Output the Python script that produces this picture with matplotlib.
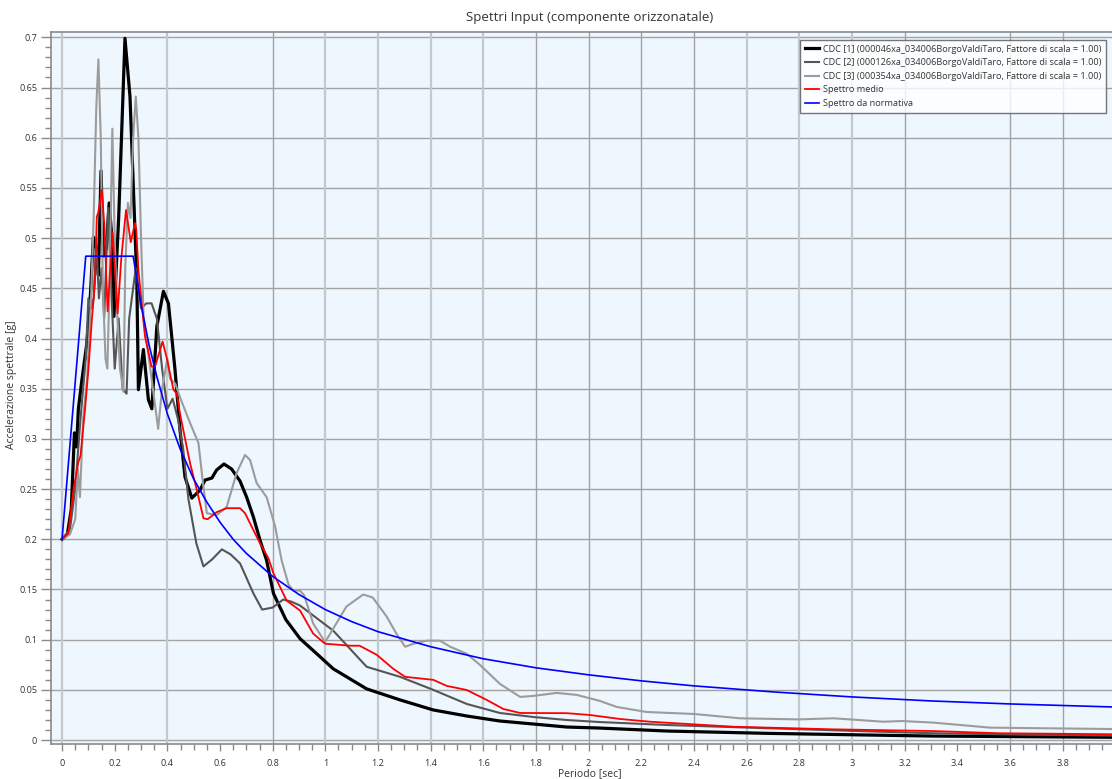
import matplotlib
matplotlib.use("Agg")
import matplotlib.pyplot as plt
from matplotlib.ticker import MultipleLocator, FuncFormatter

plt.rcParams['font.family'] = ['Open Sans', 'DejaVu Sans']

# ---------------- data ----------------
labels = [
    "CDC [1] (000046xa_034006BorgoValdiTaro, Fattore di scala = 1.00)",
    "CDC [2] (000126xa_034006BorgoValdiTaro, Fattore di scala = 1.00)",
    "CDC [3] (000354xa_034006BorgoValdiTaro, Fattore di scala = 1.00)",
    "Spettro medio",
    "Spettro da normativa",
]

cdc1_T = [0, 0.02, 0.035, 0.047, 0.055, 0.062, 0.075, 0.094, 0.106, 0.119, 0.13, 0.138,
          0.148, 0.157, 0.168, 0.179, 0.189, 0.197, 0.215, 0.239, 0.258, 0.284, 0.29,
          0.309, 0.328, 0.341, 0.36, 0.385, 0.404, 0.429, 0.448, 0.467, 0.493, 0.524,
          0.543, 0.569, 0.587, 0.615, 0.644, 0.676, 0.701, 0.727, 0.752, 0.777, 0.803,
          0.85, 0.904, 0.98, 1.03, 1.157, 1.284, 1.41, 1.537, 1.663, 1.79, 1.917, 2.04,
          2.3, 2.68, 3.0, 3.31, 3.65, 3.99]
cdc1_Y = [0.2, 0.205, 0.23, 0.306, 0.292, 0.33, 0.358, 0.395, 0.435, 0.501, 0.49, 0.463,
          0.567, 0.482, 0.49, 0.535, 0.501, 0.422, 0.52, 0.699, 0.641, 0.458, 0.349,
          0.389, 0.339, 0.330, 0.412, 0.447, 0.435, 0.369, 0.309, 0.262, 0.241, 0.249,
          0.259, 0.261, 0.269, 0.275, 0.270, 0.258, 0.242, 0.222, 0.199, 0.179, 0.146,
          0.12, 0.101, 0.083, 0.071, 0.051, 0.040, 0.030, 0.024, 0.019, 0.016, 0.013, 0.012,
          0.009, 0.0067, 0.0053, 0.004, 0.0034, 0.0028]

cdc2_T = [0, 0.03, 0.05, 0.07, 0.09, 0.1, 0.11, 0.12, 0.13, 0.14, 0.15, 0.16, 0.175,
          0.185, 0.2, 0.215, 0.23, 0.245, 0.255, 0.27, 0.28, 0.3, 0.32, 0.34, 0.36, 0.38,
          0.4, 0.42, 0.44, 0.46, 0.48, 0.51, 0.537, 0.57, 0.607, 0.64, 0.676, 0.727, 0.76,
          0.8, 0.84, 0.87, 0.904, 1.03, 1.157, 1.284, 1.41, 1.537, 1.663, 1.79, 1.917,
          2.04, 2.3, 2.68, 3.0, 3.31, 3.65, 3.99]
cdc2_Y = [0.2, 0.21, 0.25, 0.32, 0.38, 0.44, 0.43, 0.44, 0.5, 0.44, 0.47, 0.42, 0.53,
          0.46, 0.37, 0.42, 0.35, 0.345, 0.42, 0.45, 0.47, 0.43, 0.435, 0.435, 0.42, 0.37,
          0.33, 0.34, 0.32, 0.29, 0.24, 0.196, 0.173, 0.18, 0.19, 0.185, 0.176, 0.146, 0.13,
          0.132, 0.14, 0.138, 0.134, 0.109, 0.073, 0.063, 0.050, 0.036, 0.027, 0.023, 0.020,
          0.018, 0.015, 0.0118, 0.0092, 0.0068, 0.0055, 0.0045]

cdc3_T = [0, 0.03, 0.05, 0.06, 0.068, 0.08, 0.095, 0.11, 0.12, 0.13, 0.138, 0.147, 0.155,
          0.165, 0.172, 0.18, 0.191, 0.2, 0.21, 0.22, 0.233, 0.24, 0.25, 0.26, 0.27, 0.28,
          0.29, 0.3, 0.31, 0.33, 0.35, 0.365, 0.38, 0.4, 0.41, 0.43, 0.45, 0.486, 0.518,
          0.537, 0.55, 0.587, 0.625, 0.663, 0.695, 0.714, 0.739, 0.777, 0.809, 0.834, 0.86,
          0.878, 0.904, 0.92, 0.954, 0.999, 1.03, 1.08, 1.144, 1.18, 1.233, 1.27, 1.303,
          1.335, 1.385, 1.436, 1.474, 1.537, 1.587, 1.663, 1.74, 1.79, 1.879, 1.955, 2.043,
          2.107, 2.22, 2.4, 2.575, 2.8, 2.93, 3.12, 3.19, 3.31, 3.525, 3.99]
cdc3_Y = [0.2, 0.205, 0.22, 0.27, 0.242, 0.32, 0.36, 0.44, 0.52, 0.63, 0.678, 0.6, 0.45,
          0.38, 0.37, 0.45, 0.609, 0.5, 0.42, 0.37, 0.347, 0.47, 0.535, 0.52, 0.6, 0.641,
          0.6, 0.5, 0.42, 0.38, 0.34, 0.31, 0.35, 0.38, 0.36, 0.355, 0.34, 0.316, 0.296,
          0.252, 0.226, 0.224, 0.232, 0.266, 0.284, 0.279, 0.256, 0.242, 0.213, 0.179, 0.155,
          0.149, 0.149, 0.144, 0.116, 0.0976, 0.111, 0.133, 0.145, 0.142, 0.123, 0.106, 0.093,
          0.096, 0.099, 0.099, 0.093, 0.086, 0.075, 0.056, 0.043, 0.044, 0.047, 0.045, 0.039,
          0.033, 0.028, 0.026, 0.0217, 0.0206, 0.0217, 0.0183, 0.019, 0.0174, 0.0124, 0.011]

mean_T = [0, 0.024, 0.043, 0.062, 0.07, 0.087, 0.1, 0.113, 0.125, 0.132, 0.138, 0.151,
          0.161, 0.173, 0.192, 0.211, 0.225, 0.243, 0.261, 0.277, 0.282, 0.29, 0.315,
          0.34, 0.353, 0.382, 0.398, 0.423, 0.436, 0.448, 0.486, 0.512, 0.537, 0.553,
          0.587, 0.625, 0.676, 0.695, 0.727, 0.752, 0.784, 0.803, 0.853, 0.904, 0.954,
          0.999, 1.094, 1.13, 1.195, 1.258, 1.303, 1.41, 1.461, 1.537, 1.613, 1.676, 1.74,
          1.917, 2.005, 2.12, 2.233, 2.55, 2.93, 3.31, 3.56, 3.99]
mean_Y = [0.2, 0.206, 0.249, 0.277, 0.283, 0.329, 0.369, 0.418, 0.455, 0.521, 0.526, 0.548,
          0.511, 0.427, 0.506, 0.425, 0.48, 0.528, 0.496, 0.515, 0.508, 0.468, 0.402,
          0.372, 0.372, 0.397, 0.38, 0.349, 0.345, 0.325, 0.276, 0.249, 0.221, 0.22,
          0.227, 0.231, 0.231, 0.226, 0.209, 0.196, 0.181, 0.166, 0.139, 0.129, 0.106,
          0.096, 0.094, 0.094, 0.085, 0.071, 0.063, 0.060, 0.054, 0.0499, 0.040, 0.031, 0.027,
          0.0268, 0.025, 0.021, 0.0183, 0.0133, 0.0107, 0.009, 0.0068, 0.0058]

norm_T = [0, 0.09, 0.27, 0.3, 0.33, 0.36, 0.4, 0.45, 0.5, 0.55, 0.6, 0.65, 0.7, 0.8, 0.9,
          1.0, 1.1, 1.2, 1.4, 1.6, 1.8, 2.0, 2.2, 2.4, 2.7, 3.0, 3.3, 3.6, 3.99]
norm_Y = [0.2, 0.482, 0.482, 0.434, 0.394, 0.362, 0.325, 0.289, 0.260, 0.237, 0.217,
          0.200, 0.186, 0.163, 0.145, 0.130, 0.118, 0.108, 0.093, 0.081, 0.072, 0.065,
          0.059, 0.054, 0.048, 0.043, 0.039, 0.036, 0.033]

# ---------------- figure ----------------
fig = plt.figure(figsize=(11.12, 7.79), dpi=100)
ax = fig.add_axes([51 / 1112, 1 - 744 / 779, 1 - 51 / 1112, (744 - 32) / 779])
ax.set_facecolor('#eef6fe')

ax.set_xlim(-0.042, 3.988)
ax.set_ylim(-0.0039, 0.7053)

# grid
for v in [0.05 * k for k in range(0, 15)]:
    ax.axhline(v, color='#a3a3a3', lw=1.0, zorder=1)
light_v = [0, 0.4, 1.0, 1.2, 1.4, 1.6, 2.6, 2.8, 3.0]
dark_v = [0.8, 1.8, 2.0, 2.2, 2.4, 3.2, 3.6, 3.8]
for v in light_v:
    ax.axvline(v, color='#c5c9cd', lw=1.6, zorder=1)
for v in dark_v:
    ax.axvline(v, color='#a3a3a3', lw=1.0, zorder=1)

l1, = ax.plot(cdc1_T, cdc1_Y, color='black', lw=2.3, zorder=3)
l2, = ax.plot(cdc2_T, cdc2_Y, color='#555555', lw=1.5, zorder=3)
l3, = ax.plot(cdc3_T, cdc3_Y, color='#9c9c9c', lw=1.5, zorder=3)
l4, = ax.plot(mean_T, mean_Y, color='#ff0000', lw=1.3, zorder=4)
l5, = ax.plot(norm_T, norm_Y, color='#0000ff', lw=1.2, zorder=5)

# ticks
ax.yaxis.set_major_locator(MultipleLocator(0.05))
ax.yaxis.set_minor_locator(MultipleLocator(0.01))
ax.xaxis.set_major_locator(MultipleLocator(0.2))
ax.xaxis.set_minor_locator(MultipleLocator(0.05))
fmt = FuncFormatter(lambda v, p: ('%g' % round(v, 2)))
ax.xaxis.set_major_formatter(fmt)
ax.yaxis.set_major_formatter(fmt)
ax.tick_params(axis='y', which='major', length=7, width=1, color='#8a8a8a',
               labelsize=6.6, labelcolor='#333333', pad=3)
ax.tick_params(axis='y', which='minor', length=4, width=1, color='#8a8a8a')
ax.tick_params(axis='x', which='major', length=5, width=1, color='#8a8a8a',
               labelsize=6.6, labelcolor='#333333', pad=6)
ax.tick_params(axis='x', which='minor', length=4, width=1, color='#8a8a8a')

for s in ['left', 'bottom', 'top']:
    ax.spines[s].set_color('#8a8a8a')
    ax.spines[s].set_linewidth(1.2)
ax.spines['right'].set_visible(False)

fig.text(590 / 1112, 1 - 18 / 779, "Spettri Input (componente orizzonatale)",
         ha='center', va='center', fontsize=9.5, color='#333333')
fig.text(590 / 1112, 1 - 774 / 779, "Periodo [sec]", ha='center', va='center',
         fontsize=7.5, color='#333333')
fig.text(12 / 1112, 1 - 385 / 779, "Accelerazione spettrale [g]", ha='center',
         va='center', rotation=90, fontsize=7.5, color='#333333')

leg = fig.legend([l1, l2, l3, l4, l5], labels, loc='upper left',
                 bbox_to_anchor=(800 / 1112, 1 - 40 / 779), fontsize=6.6,
                 frameon=True, fancybox=False, edgecolor='#555555',
                 handlelength=1.6, handletextpad=0.4, labelspacing=0.5,
                 borderpad=0.5, borderaxespad=0)
leg.get_frame().set_linewidth(1.0)
for t in leg.get_texts():
    t.set_color('#333333')

fig.savefig('out.png', dpi=100)
